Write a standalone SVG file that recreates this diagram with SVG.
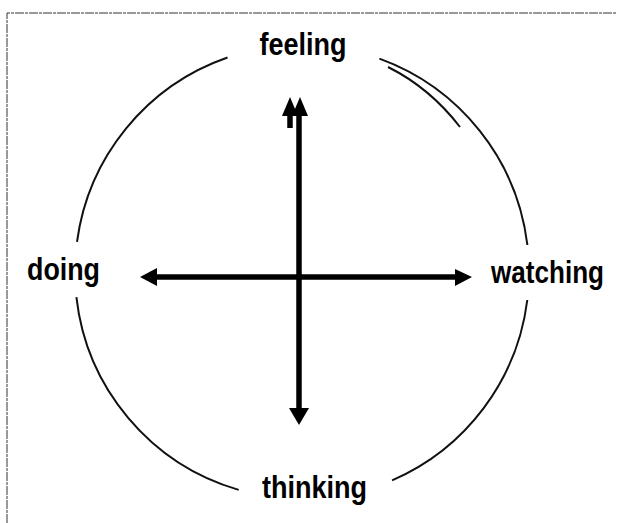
<svg xmlns="http://www.w3.org/2000/svg" width="617" height="523" viewBox="0 0 617 523">
<style>
.lbl{font-family:"Liberation Sans",Arial,sans-serif;font-weight:bold;font-size:31px;fill:#000;}
.arc{fill:none;stroke:#111;stroke-width:2;}
.shaft{stroke:#000;stroke-width:5.5;fill:none;}
.head{fill:#000;}
.frame{stroke:#333;stroke-width:1;fill:none;stroke-dasharray:9 1 3 1;}
</style>
<rect width="617" height="523" fill="#fff"/>
<path class="frame" d="M7,523 V13 H617"/>
<g id="circle">
<path class="arc" d="M227.5,57.5 A227,227 0 0 0 77,241.8"/>
<path class="arc" d="M76.4,297.2 A227,227 0 0 0 238.7,489.9"/>
<path class="arc" d="M392.1,480.4 A227,227 0 0 0 527.3,300"/>
<path class="arc" d="M527.4,245 A227,227 0 0 0 379.4,58.6"/>
<path class="arc" d="M388,67 Q430,88 460,127"/>
</g>
<g id="connectors">
<line class="shaft" x1="299" y1="114" x2="299" y2="410"/>
<polygon class="head" points="300,97 308,116 292,116"/>
<polygon class="head" points="299,425 309,408 289,408"/>
<line class="shaft" x1="290" y1="114" x2="290" y2="128"/>
<polygon class="head" points="290,97 298,116 282,116"/>
<line class="shaft" x1="155" y1="277" x2="457" y2="277"/>
<polygon class="head" points="140,277 157,268 157,286"/>
<polygon class="head" points="472,277 455,269 455,286"/>
</g>
<g id="feeling"><text class="lbl" x="303" y="55" text-anchor="middle" textLength="87" lengthAdjust="spacingAndGlyphs">feeling</text></g>
<g id="doing"><text class="lbl" x="27" y="280" textLength="73" lengthAdjust="spacingAndGlyphs">doing</text></g>
<g id="watching"><text class="lbl" x="491" y="283" textLength="113" lengthAdjust="spacingAndGlyphs">watching</text></g>
<g id="thinking"><text class="lbl" x="262" y="498" textLength="105" lengthAdjust="spacingAndGlyphs">thinking</text></g>
</svg>
